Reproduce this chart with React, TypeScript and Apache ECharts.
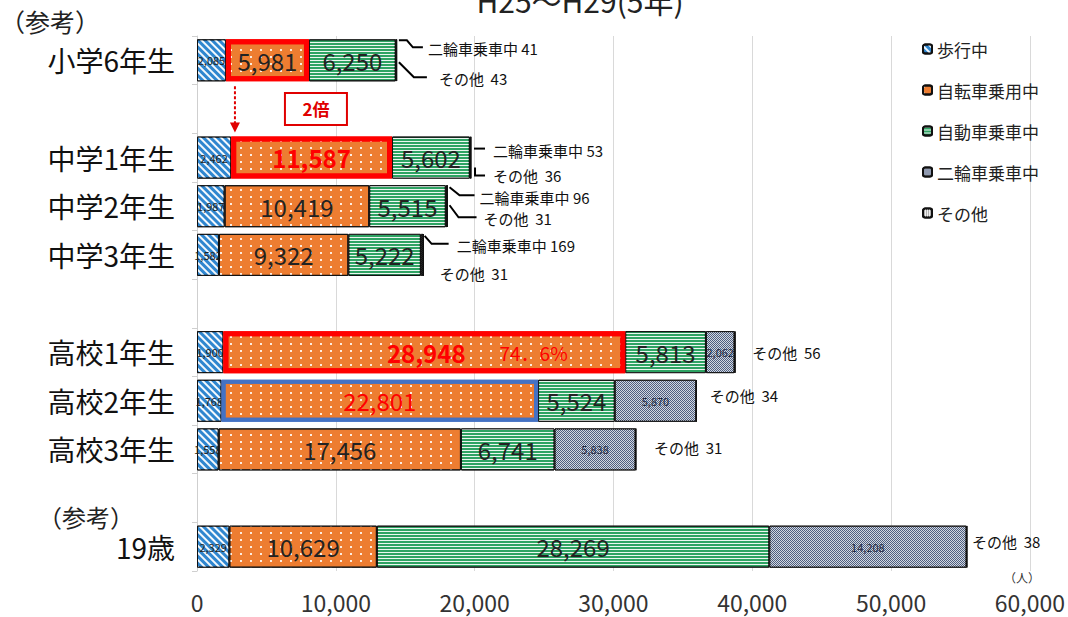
import React, { useEffect, useRef } from "react";
import * as echarts from "echarts";

const categories = ["小学6年生", "", "中学1年生", "中学2年生", "中学3年生", "", "高校1年生", "高校2年生", "高校3年生", "", "19歳"];
const seriesNames = ["歩行中", "自転車乗用中", "自動車乗車中", "二輪車乗車中", "その他"];
const walking = [2085, null, 2462, 1987, 1582, null, 1900, 1768, 1558, null, 2329];
const bicycle = [5981, null, 11587, 10419, 9322, null, 28948, 22801, 17456, null, 10629];
const car = [6250, null, 5602, 5515, 5222, null, 5813, 5524, 6741, null, 28269];
const moto = [41, null, 53, 96, 169, null, 2062, 5870, 5838, null, 14208];
const other = [43, null, 36, 31, 31, null, 56, 34, 31, null, 38];
const xMin = 0;
const xMax = 60000;
const xInterval = 10000;
const titleText = "H25～H29(5年)";
const refText = "（参考）";
const ratioText = "2倍";
const unitText = "（人）";
const motoOutsideRows = [0, 2, 3, 4];

const FF = '"Noto Sans CJK JP", "Noto Sans", sans-serif';
const fmt = (v: number) => v.toLocaleString("en-US");

// annotation layout offsets relative to bar end (x) and bar center (y)
const motoAnno: Record<number, { line: number[][]; text: number[] }> = {
  0: { line: [[2, -20], [10, -20], [16, -13], [26, -13]], text: [31, -12] },
  2: { line: [[3, -9], [14, -9]], text: [22, -7] },
  3: { line: [[2, -19], [12, -11], [27, -11]], text: [32, -9] },
  4: { line: [[1, -19], [8, -11], [25, -11]], text: [33, -9] },
};
const otherAnno: Record<number, { line: number[][] | null; text: number[] }> = {
  0: { line: [[2, 2], [17, 17], [30, 17]], text: [42, 18] },
  2: { line: [[4, 10], [4, 18], [14, 18]], text: [22, 18] },
  3: { line: [[2, -1], [11, 11], [29, 11]], text: [36, 12] },
  4: { line: null, text: [16, 19] },
  6: { line: null, text: [17, 0] },
  7: { line: null, text: [13, -5] },
  8: { line: null, text: [18, -2] },
  10: { line: null, text: [5, -5] },
};

export default function App() {
  const ref = useRef<HTMLDivElement>(null);
  useEffect(() => {
    const chart = echarts.init(ref.current!, null, { renderer: "svg" });
    const totals = categories.map((_, i) =>
      [walking, bicycle, car, moto, other].reduce((s, a) => s + ((a[i] as number) || 0), 0)
    );
    const pct = ((bicycle[6] as number) / totals[6] * 100).toFixed(1).replace(".", "．") + "%";

    const border = { borderColor: "#111", borderWidth: 1 };
    const bikeData = bicycle.map((v, i) => {
      if (v == null) return null;
      if (i === 0) return { value: v, itemStyle: { borderColor: "#ff0000", borderWidth: 5 } };
      if (i === 2)
        return {
          value: v,
          itemStyle: { borderColor: "#ff0000", borderWidth: 5 },
          label: { color: "#ff0000", fontWeight: "bold" },
        };
      if (i === 6)
        return {
          value: v,
          itemStyle: { borderColor: "#ff0000", borderWidth: 5 },
          label: {
            formatter: `{v|${fmt(v)}}{p|${pct}}`,
            offset: [53, 0],
            rich: {
              v: { fontSize: 24, fontWeight: "bold", color: "#ff0000", fontFamily: FF },
              p: { fontSize: 19, color: "#ff0000", padding: [0, 0, 0, 34], fontFamily: FF },
            },
          },
        };
      if (i === 7)
        return {
          value: v,
          itemStyle: { borderColor: "#4472c4", borderWidth: 4 },
          label: { color: "#ff0000" },
        };
      return v;
    });
    const motoData = moto.map((v, i) =>
      v == null ? null : motoOutsideRows.includes(i) ? { value: v, label: { show: false } } : v
    );

    const bigLabel = {
      show: true,
      position: "inside",
      fontSize: 24,
      color: "#222",
      fontFamily: FF,
      formatter: (p: any) => fmt(p.value),
    };
    const smallLabel = { ...bigLabel, fontSize: 11 };

    const option: any = {
      animation: false,
      backgroundColor: "#fff",
      textStyle: { fontFamily: FF },
      grid: { left: 197, right: 38, top: 36, bottom: 46, containLabel: false },
      legend: {
        orient: "vertical",
        left: 917,
        top: 35,
        itemWidth: 9,
        itemHeight: 9,
        itemGap: 23,
        textStyle: { fontSize: 17, color: "#222", fontFamily: FF, lineHeight: 18 },
        data: seriesNames,
      },
      xAxis: {
        type: "value",
        min: xMin,
        max: xMax,
        interval: xInterval,
        axisLine: { show: false },
        axisTick: { show: false },
        splitLine: { lineStyle: { color: "#d9d9d9", width: 1 } },
        axisLabel: {
          fontSize: 23,
          color: "#333",
          margin: 19,
          fontFamily: FF,
          formatter: (v: number) => fmt(v),
        },
      },
      yAxis: {
        type: "category",
        inverse: true,
        data: categories,
        axisLine: { lineStyle: { color: "#cfcfcf" } },
        axisTick: { show: true, length: 5, lineStyle: { color: "#cfcfcf" } },
        axisLabel: { fontSize: 28, color: "#111", margin: 22, fontFamily: FF },
      },
      series: [
        {
          name: seriesNames[0],
          type: "bar",
          stack: "a",
          barWidth: 42,
          data: walking,
          label: smallLabel,
          itemStyle: {
            color: "#2f86cf",
            ...border,
            decal: {
              symbol: "rect",
              symbolSize: 1,
              color: "rgba(255,255,255,0.95)",
              dashArrayX: [1, 0],
              dashArrayY: [2, 3],
              rotation: Math.PI / 4,
            },
          },
        },
        {
          name: seriesNames[1],
          type: "bar",
          stack: "a",
          barWidth: 42,
          z: 3,
          data: bikeData,
          label: bigLabel,
          itemStyle: {
            color: "#ed7d31",
            ...border,
            decal: {
              symbol: "rect",
              symbolSize: 1,
              color: "rgba(255,255,255,0.85)",
              dashArrayX: [2, 8],
              dashArrayY: [2, 5],
              rotation: 0,
            },
          },
        },
        {
          name: seriesNames[2],
          type: "bar",
          stack: "a",
          barWidth: 42,
          data: car,
          label: bigLabel,
          itemStyle: {
            color: "#2ea363",
            ...border,
            decal: {
              symbol: "rect",
              symbolSize: 1,
              color: "rgba(255,255,255,0.9)",
              dashArrayX: [1, 0],
              dashArrayY: [1, 2],
              rotation: 0,
            },
          },
        },
        {
          name: seriesNames[3],
          type: "bar",
          stack: "a",
          barWidth: 42,
          data: motoData,
          label: { ...smallLabel, color: "#1f2a44" },
          itemStyle: {
            color: "#4d5e80",
            ...border,
            decal: {
              symbol: "rect",
              symbolSize: 1,
              color: "rgba(255,255,255,0.75)",
              dashArrayX: [[1, 1], [0, 1, 1, 0]],
              dashArrayY: [1, 0],
              rotation: 0,
            },
          },
        },
        {
          name: seriesNames[4],
          type: "bar",
          stack: "a",
          barWidth: 42,
          data: other,
          label: { show: false },
          itemStyle: {
            color: "#b0b0b0",
            ...border,
            decal: {
              symbol: "rect",
              symbolSize: 1,
              color: "rgba(255,255,255,0.8)",
              dashArrayX: [1, 1],
              dashArrayY: [1, 0],
              rotation: 0,
            },
          },
        },
      ],
    };
    chart.setOption(option);

    const P = (v: number, i: number) => chart.convertToPixel({ gridIndex: 0 }, [v, i]) as number[];
    const half = 21;
    const g: any[] = [];
    const annoText = (x: number, y: number, text: string) => ({
      type: "text",
      x,
      y,
      z: 20,
      style: { text, fontSize: 15, fill: "#111", fontFamily: FF, textAlign: "left", textVerticalAlign: "middle" },
    });
    const annoLine = (ex: number, cy: number, pts: number[][]) => ({
      type: "polyline",
      z: 20,
      shape: { points: pts.map(([dx, dy]) => [ex + dx, cy + dy]) },
      style: { stroke: "#000", lineWidth: 2, fill: null },
    });

    categories.forEach((_, i) => {
      if (!totals[i]) return;
      const [ex, cy] = P(totals[i], i);
      const m = motoAnno[i];
      if (m) {
        g.push(annoLine(ex, cy, m.line));
        g.push(annoText(ex + m.text[0], cy + m.text[1], `二輪車乗車中 ${moto[i]}`));
      }
      const o = otherAnno[i];
      if (o) {
        if (o.line) g.push(annoLine(ex, cy, o.line));
        g.push(annoText(ex + o.text[0], cy + o.text[1], `その他  ${other[i]}`));
      }
    });

    // title (cut at top, as in the source slide)
    g.push({
      type: "text",
      x: 580,
      y: 15,
      style: { text: titleText, fontSize: 30, fill: "#222", fontFamily: FF, textAlign: "center", textVerticalAlign: "bottom" },
    });
    g.push({
      type: "text",
      x: 0,
      y: 21,
      style: { text: refText, fontSize: 25, fill: "#222", fontFamily: FF, textAlign: "left", textVerticalAlign: "middle" },
    });
    const [, y19] = P(0, 10);
    g.push({
      type: "text",
      x: 38,
      y: y19 - 30,
      style: { text: refText, fontSize: 24, fill: "#222", fontFamily: FF, textAlign: "left", textVerticalAlign: "middle" },
    });

    // arrow and "2倍" box
    const ax = P(walking[0] as number, 0)[0] + 9;
    const ay1 = P(0, 0)[1] + half + 5;
    const ay2 = P(0, 2)[1] - half - 4;
    g.push({
      type: "line",
      z: 20,
      shape: { x1: ax, y1: ay1, x2: ax, y2: ay2 - 9 },
      style: { stroke: "#e00000", lineWidth: 2, lineDash: [3, 2] },
    });
    g.push({
      type: "polygon",
      z: 20,
      shape: { points: [[ax - 5, ay2 - 10], [ax + 5, ay2 - 10], [ax, ay2]] },
      style: { fill: "#e00000" },
    });
    const by = P(0, 1)[1];
    g.push({
      type: "rect",
      z: 20,
      shape: { x: ax + 50, y: by - 16, width: 62, height: 32 },
      style: { fill: "#fff", stroke: "#e00000", lineWidth: 2 },
    });
    g.push({
      type: "text",
      z: 21,
      x: ax + 81,
      y: by,
      style: { text: ratioText, fontSize: 17, fontWeight: "bold", fill: "#e00000", fontFamily: FF, textAlign: "center", textVerticalAlign: "middle" },
    });

    // unit label
    const ux = P(xMax, 10)[0];
    g.push({
      type: "text",
      x: ux - 8,
      y: y19 + 31,
      style: { text: unitText, fontSize: 12, fill: "#333", fontFamily: FF, textAlign: "center", textVerticalAlign: "middle" },
    });

    chart.setOption({ graphic: g });
    return () => chart.dispose();
  }, []);
  return (
    <div
      ref={ref}
      style={{ position: "fixed", left: 0, top: 0, width: 1068, height: 617, background: "#fff" }}
    />
  );
}
